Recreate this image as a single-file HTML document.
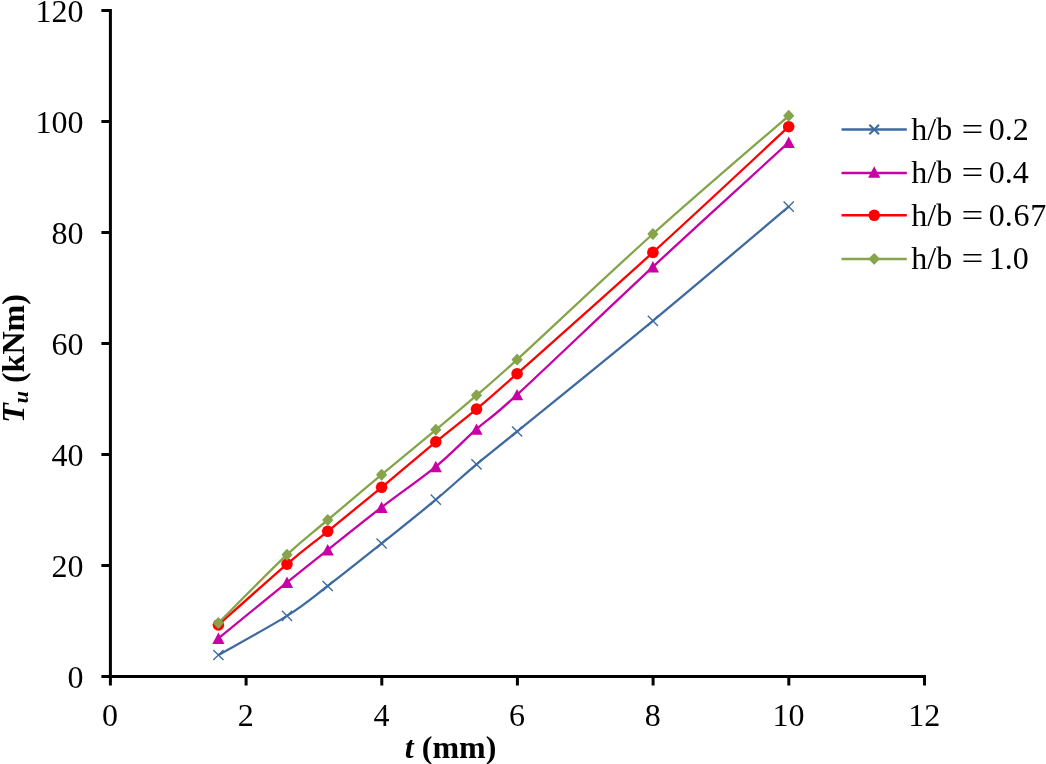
<!DOCTYPE html>
<html><head><meta charset="utf-8"><title>chart</title>
<style>
html,body{margin:0;padding:0;background:#fff;}
body{width:1046px;height:764px;overflow:hidden;position:relative;}
svg{position:absolute;left:0;top:0;display:block;}
text{font-family:"Liberation Serif","Times New Roman",serif;font-size:32px;fill:#000;}
.b{font-weight:bold;}
.i{font-style:italic;}
</style></head><body>
<svg width="1046" height="764" viewBox="0 0 1046 764">
<rect width="1046" height="764" fill="#fff"/>
<g stroke="#000" stroke-width="3" fill="none" stroke-linecap="butt">
<path d="M110.4 9.0V685.5"/>
<path d="M101.4 676.5H926.0"/>
<path d="M101.4 565.5H110.4"/>
<path d="M101.4 454.5H110.4"/>
<path d="M101.4 343.5H110.4"/>
<path d="M101.4 232.5H110.4"/>
<path d="M101.4 121.5H110.4"/>
<path d="M101.4 10.5H110.4"/>
<path d="M246.1 676.5V685.5"/>
<path d="M381.8 676.5V685.5"/>
<path d="M517.4 676.5V685.5"/>
<path d="M653.1 676.5V685.5"/>
<path d="M788.8 676.5V685.5"/>
<path d="M924.5 676.5V685.5"/>
</g>
<text x="83.5" y="687.8" text-anchor="end">0</text>
<text x="83.5" y="576.8" text-anchor="end">20</text>
<text x="83.5" y="465.8" text-anchor="end">40</text>
<text x="83.5" y="354.8" text-anchor="end">60</text>
<text x="83.5" y="243.8" text-anchor="end">80</text>
<text x="83.5" y="132.8" text-anchor="end">100</text>
<text x="83.5" y="21.8" text-anchor="end">120</text>
<text x="110.1" y="726" text-anchor="middle">0</text>
<text x="245.8" y="726" text-anchor="middle">2</text>
<text x="381.5" y="726" text-anchor="middle">4</text>
<text x="517.1" y="726" text-anchor="middle">6</text>
<text x="652.8" y="726" text-anchor="middle">8</text>
<text x="788.5" y="726" text-anchor="middle">10</text>
<text x="924.2" y="726" text-anchor="middle">12</text>
<text class="b" x="450.6" y="758" text-anchor="middle"><tspan class="i">t</tspan> (mm)</text>
<text class="b" transform="translate(23.7,358.5) rotate(-90)" text-anchor="middle"><tspan class="i">T</tspan><tspan class="i" font-size="22px" dy="4">u</tspan><tspan dy="-4"> (kNm)</tspan></text>
<path d="M218.4 655.0C229.83 648.48 268.78 627.40 287.0 615.9C305.22 604.40 311.93 598.07 327.7 586.0C343.47 573.93 363.58 557.88 381.6 543.5C399.62 529.12 419.98 512.90 435.8 499.7C451.62 486.50 462.95 475.67 476.5 464.3C490.05 452.93 487.70 455.42 517.1 431.5C546.50 407.58 607.63 358.27 652.9 320.8C698.17 283.33 766.07 225.72 788.7 206.7" fill="none" stroke="#3d6aa1" stroke-width="2.3" stroke-linejoin="round"/>
<path d="M213.3 649.9L223.5 660.1M213.3 660.1L223.5 649.9" stroke="#3d6aa1" stroke-width="1.35" fill="none"/>
<path d="M281.9 610.8L292.1 621.0M281.9 621.0L292.1 610.8" stroke="#3d6aa1" stroke-width="1.35" fill="none"/>
<path d="M322.6 580.9L332.8 591.1M322.6 591.1L332.8 580.9" stroke="#3d6aa1" stroke-width="1.35" fill="none"/>
<path d="M376.5 538.4L386.7 548.6M376.5 548.6L386.7 538.4" stroke="#3d6aa1" stroke-width="1.35" fill="none"/>
<path d="M430.7 494.6L440.9 504.8M430.7 504.8L440.9 494.6" stroke="#3d6aa1" stroke-width="1.35" fill="none"/>
<path d="M471.4 459.2L481.6 469.4M471.4 469.4L481.6 459.2" stroke="#3d6aa1" stroke-width="1.35" fill="none"/>
<path d="M512.0 426.4L522.2 436.6M512.0 436.6L522.2 426.4" stroke="#3d6aa1" stroke-width="1.35" fill="none"/>
<path d="M647.8 315.7L658.0 325.9M647.8 325.9L658.0 315.7" stroke="#3d6aa1" stroke-width="1.35" fill="none"/>
<path d="M783.6 201.6L793.8 211.8M783.6 211.8L793.8 201.6" stroke="#3d6aa1" stroke-width="1.35" fill="none"/>
<path d="M218.4 638.3C229.83 628.98 268.78 597.13 287.0 582.4C305.22 567.67 311.93 562.42 327.7 549.9C343.47 537.38 363.58 521.18 381.6 507.3C399.62 493.42 419.98 479.62 435.8 466.6C451.62 453.58 462.95 441.18 476.5 429.2C490.05 417.22 487.70 421.77 517.1 394.7C546.50 367.63 607.63 308.85 652.9 266.8C698.17 224.75 766.07 163.13 788.7 142.4" fill="none" stroke="#c800a5" stroke-width="2.3" stroke-linejoin="round"/>
<path d="M218.4 632.5L224.5 643.9L212.3 643.9Z" fill="#c800a5"/>
<path d="M287.0 576.6L293.1 588.0L280.9 588.0Z" fill="#c800a5"/>
<path d="M327.7 544.1L333.8 555.5L321.6 555.5Z" fill="#c800a5"/>
<path d="M381.6 501.5L387.7 512.9L375.5 512.9Z" fill="#c800a5"/>
<path d="M435.8 460.8L441.9 472.2L429.7 472.2Z" fill="#c800a5"/>
<path d="M476.5 423.4L482.6 434.8L470.4 434.8Z" fill="#c800a5"/>
<path d="M517.1 388.9L523.2 400.3L511.0 400.3Z" fill="#c800a5"/>
<path d="M652.9 261.0L659.0 272.4L646.8 272.4Z" fill="#c800a5"/>
<path d="M788.7 136.6L794.8 148.0L782.6 148.0Z" fill="#c800a5"/>
<path d="M218.4 624.9C229.83 614.77 268.78 579.70 287.0 564.1C305.22 548.50 311.93 544.10 327.7 531.3C343.47 518.50 363.58 502.20 381.6 487.3C399.62 472.40 419.98 454.93 435.8 441.9C451.62 428.87 462.95 420.47 476.5 409.1C490.05 397.73 487.70 399.82 517.1 373.7C546.50 347.58 607.63 293.57 652.9 252.4C698.17 211.23 766.07 147.65 788.7 126.7" fill="none" stroke="#ff0000" stroke-width="2.3" stroke-linejoin="round"/>
<circle cx="218.4" cy="624.9" r="5.8" fill="#ff0000"/>
<circle cx="287.0" cy="564.1" r="5.8" fill="#ff0000"/>
<circle cx="327.7" cy="531.3" r="5.8" fill="#ff0000"/>
<circle cx="381.6" cy="487.3" r="5.8" fill="#ff0000"/>
<circle cx="435.8" cy="441.9" r="5.8" fill="#ff0000"/>
<circle cx="476.5" cy="409.1" r="5.8" fill="#ff0000"/>
<circle cx="517.1" cy="373.7" r="5.8" fill="#ff0000"/>
<circle cx="652.9" cy="252.4" r="5.8" fill="#ff0000"/>
<circle cx="788.7" cy="126.7" r="5.8" fill="#ff0000"/>
<path d="M218.4 623.0C229.83 611.62 268.78 571.87 287.0 554.7C305.22 537.53 311.93 533.33 327.7 520.0C343.47 506.67 363.58 489.73 381.6 474.7C399.62 459.67 419.98 443.03 435.8 429.8C451.62 416.57 462.95 407.00 476.5 395.3C490.05 383.60 487.70 386.48 517.1 359.6C546.50 332.72 607.63 274.63 652.9 234.0C698.17 193.37 766.07 135.50 788.7 115.8" fill="none" stroke="#86a44a" stroke-width="2.3" stroke-linejoin="round"/>
<path d="M218.4 618.1L223.0 623.0L218.4 627.9L213.8 623.0Z" fill="#86a44a" stroke="#86a44a" stroke-width="1.6" stroke-linejoin="round"/>
<path d="M287.0 549.8L291.6 554.7L287.0 559.6L282.4 554.7Z" fill="#86a44a" stroke="#86a44a" stroke-width="1.6" stroke-linejoin="round"/>
<path d="M327.7 515.1L332.3 520.0L327.7 524.9L323.1 520.0Z" fill="#86a44a" stroke="#86a44a" stroke-width="1.6" stroke-linejoin="round"/>
<path d="M381.6 469.8L386.2 474.7L381.6 479.6L377.0 474.7Z" fill="#86a44a" stroke="#86a44a" stroke-width="1.6" stroke-linejoin="round"/>
<path d="M435.8 424.9L440.4 429.8L435.8 434.7L431.2 429.8Z" fill="#86a44a" stroke="#86a44a" stroke-width="1.6" stroke-linejoin="round"/>
<path d="M476.5 390.4L481.1 395.3L476.5 400.2L471.9 395.3Z" fill="#86a44a" stroke="#86a44a" stroke-width="1.6" stroke-linejoin="round"/>
<path d="M517.1 354.7L521.7 359.6L517.1 364.5L512.5 359.6Z" fill="#86a44a" stroke="#86a44a" stroke-width="1.6" stroke-linejoin="round"/>
<path d="M652.9 229.1L657.5 234.0L652.9 238.9L648.3 234.0Z" fill="#86a44a" stroke="#86a44a" stroke-width="1.6" stroke-linejoin="round"/>
<path d="M788.7 110.9L793.3 115.8L788.7 120.7L784.1 115.8Z" fill="#86a44a" stroke="#86a44a" stroke-width="1.6" stroke-linejoin="round"/>
<path d="M841.5 129.5H906.8" stroke="#3d6aa1" stroke-width="2.5" fill="none"/>
<path d="M869.4 124.7L879.0 134.3M869.4 134.3L879.0 124.7" stroke="#3d6aa1" stroke-width="2.1" fill="none"/>
<text x="911.3" y="139.7" word-spacing="1.3px">h/b <tspan textLength="21.8" lengthAdjust="spacingAndGlyphs">=</tspan><tspan dx="-3.8"> </tspan>0.2</text>
<path d="M841.5 173.0H906.8" stroke="#c800a5" stroke-width="2.5" fill="none"/>
<path d="M874.2 166.3L880.3 177.7L868.1 177.7Z" fill="#c800a5"/>
<text x="911.3" y="183.2" word-spacing="1.3px">h/b <tspan textLength="21.8" lengthAdjust="spacingAndGlyphs">=</tspan><tspan dx="-3.8"> </tspan>0.4</text>
<path d="M841.5 215.3H906.8" stroke="#ff0000" stroke-width="2.5" fill="none"/>
<circle cx="874.2" cy="215.3" r="5.8" fill="#ff0000"/>
<text x="911.3" y="225.5" word-spacing="1.3px">h/b <tspan textLength="21.8" lengthAdjust="spacingAndGlyphs">=</tspan><tspan dx="-3.8"> </tspan>0<tspan letter-spacing="0.7px">.67</tspan></text>
<path d="M841.5 258.9H906.8" stroke="#86a44a" stroke-width="2.5" fill="none"/>
<path d="M874.2 254.0L878.8 258.9L874.2 263.8L869.6 258.9Z" fill="#86a44a" stroke="#86a44a" stroke-width="1.6" stroke-linejoin="round"/>
<text x="911.3" y="269.1" word-spacing="1.3px">h/b <tspan textLength="21.8" lengthAdjust="spacingAndGlyphs">=</tspan><tspan dx="-3.8"> </tspan>1.0</text>
</svg></body></html>
